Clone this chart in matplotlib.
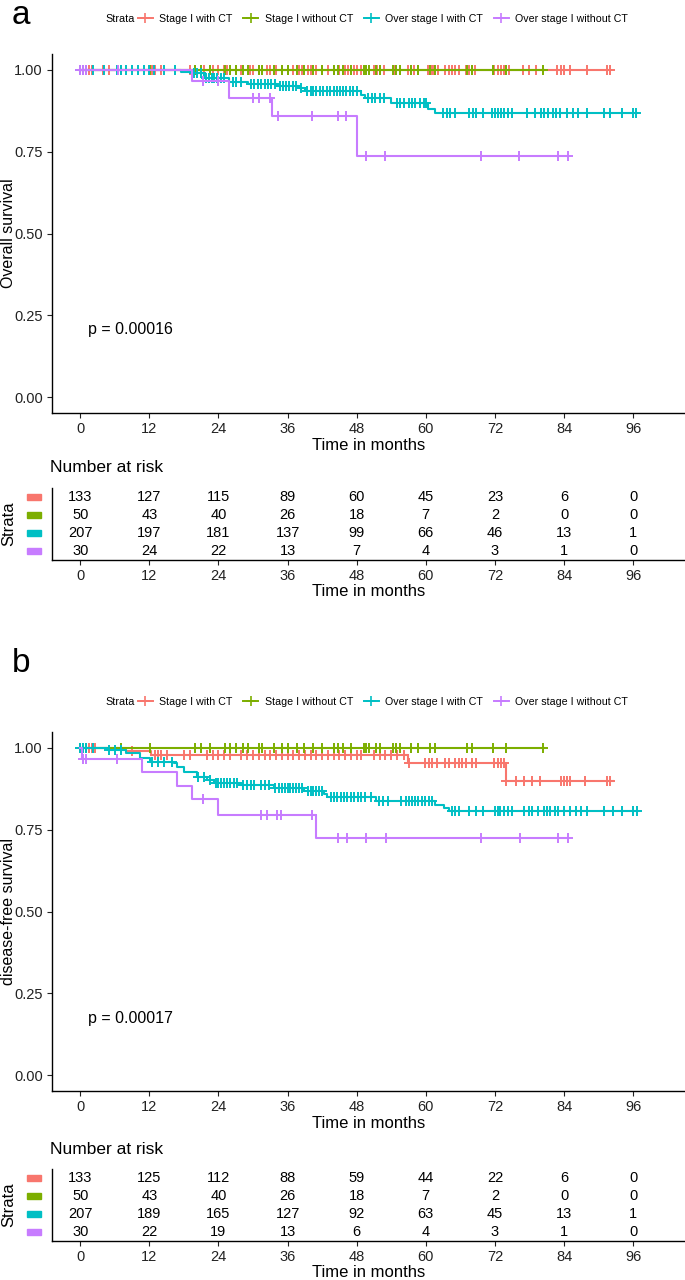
#%%

import numpy as np
import matplotlib
matplotlib.use("Agg")
import matplotlib.pyplot as plt
import matplotlib.transforms as mtransforms
from matplotlib.lines import Line2D
from matplotlib.patches import Rectangle

plt.rcParams['font.family'] = ['Liberation Sans', 'DejaVu Sans']

#%%

# Data

strata = ['Stage I with CT', 'Stage I without CT', 'Over stage I with CT', 'Over stage I without CT']
colors = ['#F8766D', '#7CAE00', '#00BFC4', '#C77CFF']
months = [0, 12, 24, 36, 48, 60, 72, 84, 96]

## (a) overall survival : event times, survival after the event, last follow-up, censor times
os_red_t = []
os_red_s = []
os_red_end = 92
os_red_cens = [0, 0.5, 1, 1.5, 2, 4, 5, 12.5, 13, 14, 19, 20, 21.5, 23, 24, 25, 25.5, 27, 28, 29.5,
               30, 31, 32.5, 33, 34, 35, 36, 37, 38, 38.5, 39.5, 40, 41, 42, 43, 44, 45, 46, 46.5,
               47.5, 48, 48.7, 51, 51.5, 52, 52.8, 54.6, 56.9, 57.5, 58, 58.7, 60.4, 61, 61.5, 62.2,
               63.4, 64, 64.5, 65, 65.7, 66.9, 67.5, 68, 68.6, 71.9, 72.5, 73, 73.5, 74.5, 76.9,
               78, 79.2, 82.7, 83.5, 84, 85.1, 88, 91.5, 92]

os_green_t = []
os_green_s = []
os_green_end = 80.5
os_green_cens = [0, 0.5, 1, 7, 12.2, 20, 21, 22.6, 25.2, 26, 27, 28.3, 29.2, 31, 31.6, 33.6, 35, 36,
                 37.7, 38.8, 40.5, 42, 44, 44.7, 45.7, 47, 49.2, 49.6, 50.2, 51.3, 52, 54.3, 54.9,
                 55.5, 57.5, 58.7, 60.7, 61.6, 67.1, 68, 71.6, 73.9, 80.4]

os_cyan_t = [17.5, 19.4, 21.5, 25.8, 29.1, 34.2, 38, 39, 48.7, 49.5, 54, 60.4, 61.6]
os_cyan_s = [0.995, 0.99, 0.975, 0.962, 0.957, 0.952, 0.944, 0.936, 0.923, 0.915, 0.898, 0.88, 0.868]
os_cyan_end = 96.7
os_cyan_cens = [0, 0.5, 1, 2.3, 4.1, 6.4, 7, 8, 9, 10, 11, 12, 12.8, 14.5, 16.5, 19.8, 20.3, 21,
                21.8, 22.3, 22.8, 23.3, 23.8, 24.4, 24.9, 26.5, 27, 28, 29.6, 30.2, 30.8, 31.4,
                32, 32.6, 33.2, 33.8, 34.7, 35.2, 35.7, 36.3, 37, 37.5, 38.4, 39.4, 40, 40.5, 41,
                41.6, 42.2, 42.8, 43.4, 44, 44.5, 45.1, 45.6, 46.2, 46.8, 47.4, 48, 50, 50.6, 51.2,
                52, 52.8, 55, 55.6, 56.2, 57, 57.6, 58.2, 59, 59.6, 60.1, 63, 63.6, 64.2, 65, 67.5,
                68.2, 68.8, 70, 71.5, 72, 72.5, 73, 73.6, 74.2, 75, 77.5, 79, 80, 80.6, 81.2, 82,
                82.6, 83.3, 84.5, 85.5, 86.5, 88, 91, 92, 94, 96, 96.5]

os_purple_t = [19.4, 25.8, 33.3, 48.1]
os_purple_s = [0.965, 0.915, 0.86, 0.737]
os_purple_end = 84.7
os_purple_cens = [0, 0.5, 1, 6.5, 21.4, 24, 30, 31, 33, 34.3, 40.3, 44.7, 46.1, 49.6, 53, 69.6,
                  76.2, 83, 84.7]

os_risk_red = [133, 127, 115, 89, 60, 45, 23, 6, 0]
os_risk_green = [50, 43, 40, 26, 18, 7, 2, 0, 0]
os_risk_cyan = [207, 197, 181, 137, 99, 66, 46, 13, 1]
os_risk_purple = [30, 24, 22, 13, 7, 4, 3, 1, 0]

## (b) disease-free survival
dfs_red_t = [8, 12.3, 56.9, 73.9]
dfs_red_s = [0.992, 0.977, 0.954, 0.898]
dfs_red_end = 92.5
dfs_red_cens = [1, 1.5, 2, 2.5, 9, 13, 13.5, 14, 15, 18, 19, 22, 23, 24, 25, 26, 28, 29, 30, 31,
                32, 33, 34, 35, 36, 37, 38, 39, 40, 41, 42, 43, 44, 45, 46, 47, 48, 48.7, 51, 52,
                53, 54, 55, 56.3, 57, 59.8, 60.5, 61, 62, 63.3, 64, 65, 65.7, 66.3, 67, 68, 68.7,
                71.8, 72.5, 73, 73.6, 74, 75.7, 77, 78.5, 79.8, 83.4, 84, 84.5, 85.1, 87.7, 91.5, 92]

dfs_green_t = []
dfs_green_s = []
dfs_green_end = 80.5
dfs_green_cens = os_green_cens

dfs_cyan_t = [4.6, 8, 10.4, 12.2, 16.2, 16.8, 18, 20.3, 22, 23.2, 27.8, 33.6, 38.8, 42.3, 42.9,
              51.3, 61.6, 63.1, 64]
dfs_cyan_s = [0.995, 0.985, 0.969, 0.958, 0.953, 0.943, 0.928, 0.912, 0.902, 0.894, 0.887, 0.877,
              0.868, 0.858, 0.851, 0.838, 0.827, 0.817, 0.808]
dfs_cyan_end = 96.7
dfs_cyan_cens = [0, 0.5, 1, 2.3, 5, 6.1, 7, 12.5, 13.5, 14.5, 16, 20.5, 21.5, 22.6, 23.5, 24, 24.5,
                 25, 25.5, 26, 26.7, 27.3, 28.3, 29, 29.6, 30.2, 31.3, 32, 32.7, 33.8, 34.5, 35,
                 35.5, 36, 36.5, 37, 37.5, 38, 38.5, 39.5, 40, 40.5, 41, 41.5, 42, 43.5, 44, 44.5,
                 45.2, 45.8, 46.4, 47, 47.6, 48.2, 48.8, 49.5, 50.4, 51.8, 52.5, 53.4, 55.7, 56.5,
                 57.1, 57.6, 58.2, 58.7, 59.3, 59.9, 60.5, 61.1, 64.5, 65.1, 65.7, 67.5, 68.7, 70,
                 72, 72.5, 72.8, 73.5, 74.2, 75, 77, 78, 78.5, 79.5, 80.5, 81, 81.5, 82.5, 83, 84,
                 85, 86, 87, 88, 91, 92.5, 94, 96, 96.7]

dfs_purple_t = [0.3, 10.7, 16.8, 19.4, 24, 41]
dfs_purple_s = [0.967, 0.928, 0.884, 0.843, 0.795, 0.724]
dfs_purple_end = 84.7
dfs_purple_cens = [0.5, 1, 6.4, 21.4, 31.3, 32.5, 34.2, 34.8, 40.3, 44.7, 46.4, 49.6, 53.1, 69.5,
                   76.3, 83, 84.7]

dfs_risk_red = [133, 125, 112, 88, 59, 44, 22, 6, 0]
dfs_risk_green = [50, 43, 40, 26, 18, 7, 2, 0, 0]
dfs_risk_cyan = [207, 189, 165, 127, 92, 63, 45, 13, 1]
dfs_risk_purple = [30, 22, 19, 13, 6, 4, 3, 1, 0]

#%%

W, H = 685, 1280
fig = plt.figure(figsize=(W / 100, H / 100), dpi=100)
XLIM = (-4.9, 105)


def px(x0, top, bottom):
    # axes rect from pixel positions
    return [x0 / W, 1 - bottom / H, (W - x0) / W, (bottom - top) / H]


def step_at(t, s, c):
    i = np.searchsorted(t, c, side='right')
    return 1.0 if i == 0 else s[i - 1]


def style(ax):
    for sp in ['top', 'right']:
        ax.spines[sp].set_visible(False)
    for sp in ['left', 'bottom']:
        ax.spines[sp].set_linewidth(1.0)
    ax.tick_params(direction='out', length=3.5, width=0.8, labelsize=10.5, colors='#222222',
                   pad=3)


def draw_panel(main_rect, table_rect, curves, risks, ylab, ptxt, py, letter, letter_y, legend_y,
               risk_title_y):
    ax = fig.add_axes(main_rect)
    for (t, s, end, cens), col in zip(curves, colors):
        x = [0] + list(t) + [end]
        y = [1] + list(s) + [s[-1] if len(s) else 1]
        ax.plot(x, y, drawstyle='steps-post', color=col, lw=1.5)
        cy = [step_at(t, s, c) for c in cens]
        ax.plot(cens, cy, ls='none', marker='+', ms=7, mew=1.4, color=col)
    ax.set_xlim(XLIM)
    ax.set_ylim(-0.05, 1.05)
    ax.set_xticks(months)
    ax.set_yticks([0, 0.25, 0.5, 0.75, 1.0])
    ax.set_yticklabels(['%.2f' % v for v in [0, 0.25, 0.5, 0.75, 1.0]])
    ax.set_xlabel('Time in months', fontsize=12, labelpad=1)
    pos = ax.get_position()
    fig.text(9 / W, pos.y0 + pos.height / 2, ylab, fontsize=11.5, rotation=90,
             va='center', ha='center')
    ax.text(1.4, py, ptxt, fontsize=11.5, va='center', ha='left')
    style(ax)

    # legend on top
    fig.text(12 / W, letter_y, letter, fontsize=24, va='center', ha='left')
    fig.text(105 / W, legend_y, 'Strata', fontsize=7.8, va='center', ha='left')
    handles = [Line2D([0], [0], color=c, lw=1.4, marker='+', ms=7, mew=1.2) for c in colors]
    fig.legend(handles, strata, loc='center left', bbox_to_anchor=(138 / W, legend_y), ncol=4,
               frameon=False, fontsize=7.7, handlelength=1.4, handletextpad=0.6,
               columnspacing=1.0, borderaxespad=0, borderpad=0)

    # risk table
    tx = fig.add_axes(table_rect)
    trans = mtransforms.blended_transform_factory(tx.transAxes, tx.transData)
    for i, row in enumerate(risks):
        for m, n in zip(months, row):
            tx.text(m, 4 - i, str(n), fontsize=10.5, ha='center', va='center')
        tx.add_patch(Rectangle((-0.040, 4 - i - 0.15), 0.023, 0.3, transform=trans,
                               color=colors[i], clip_on=False))
    tx.set_xlim(XLIM)
    tx.set_ylim(0.5, 4.5)
    tx.set_xticks(months)
    tx.set_yticks([])
    tx.set_xlabel('Time in months', fontsize=12, labelpad=1)
    style(tx)
    fig.text(50 / W, risk_title_y, 'Number at risk', fontsize=12.5, va='center', ha='left')
    pos = tx.get_position()
    fig.text(9 / W, pos.y0 + pos.height / 2, 'Strata', fontsize=12, rotation=90,
             va='center', ha='center')


os_curves = [(os_red_t, os_red_s, os_red_end, os_red_cens),
             (os_green_t, os_green_s, os_green_end, os_green_cens),
             (os_cyan_t, os_cyan_s, os_cyan_end, os_cyan_cens),
             (os_purple_t, os_purple_s, os_purple_end, os_purple_cens)]
dfs_curves = [(dfs_red_t, dfs_red_s, dfs_red_end, dfs_red_cens),
              (dfs_green_t, dfs_green_s, dfs_green_end, dfs_green_cens),
              (dfs_cyan_t, dfs_cyan_s, dfs_cyan_end, dfs_cyan_cens),
              (dfs_purple_t, dfs_purple_s, dfs_purple_end, dfs_purple_cens)]

draw_panel(px(52, 53.6, 413.4), px(52, 488, 560), os_curves,
           [os_risk_red, os_risk_green, os_risk_cyan, os_risk_purple],
           'Overall survival', 'p = 0.00016', 0.205, 'a', 1 - 15 / H, 1 - 19 / H, 1 - 468 / H)
draw_panel(px(52, 731.6, 1091.4), px(52, 1169, 1241), dfs_curves,
           [dfs_risk_red, dfs_risk_green, dfs_risk_cyan, dfs_risk_purple],
           'disease-free survival', 'p = 0.00017', 0.174, 'b', 1 - 663 / H, 1 - 702 / H,
           1 - 1150 / H)

fig.savefig('out.png', dpi=100)
